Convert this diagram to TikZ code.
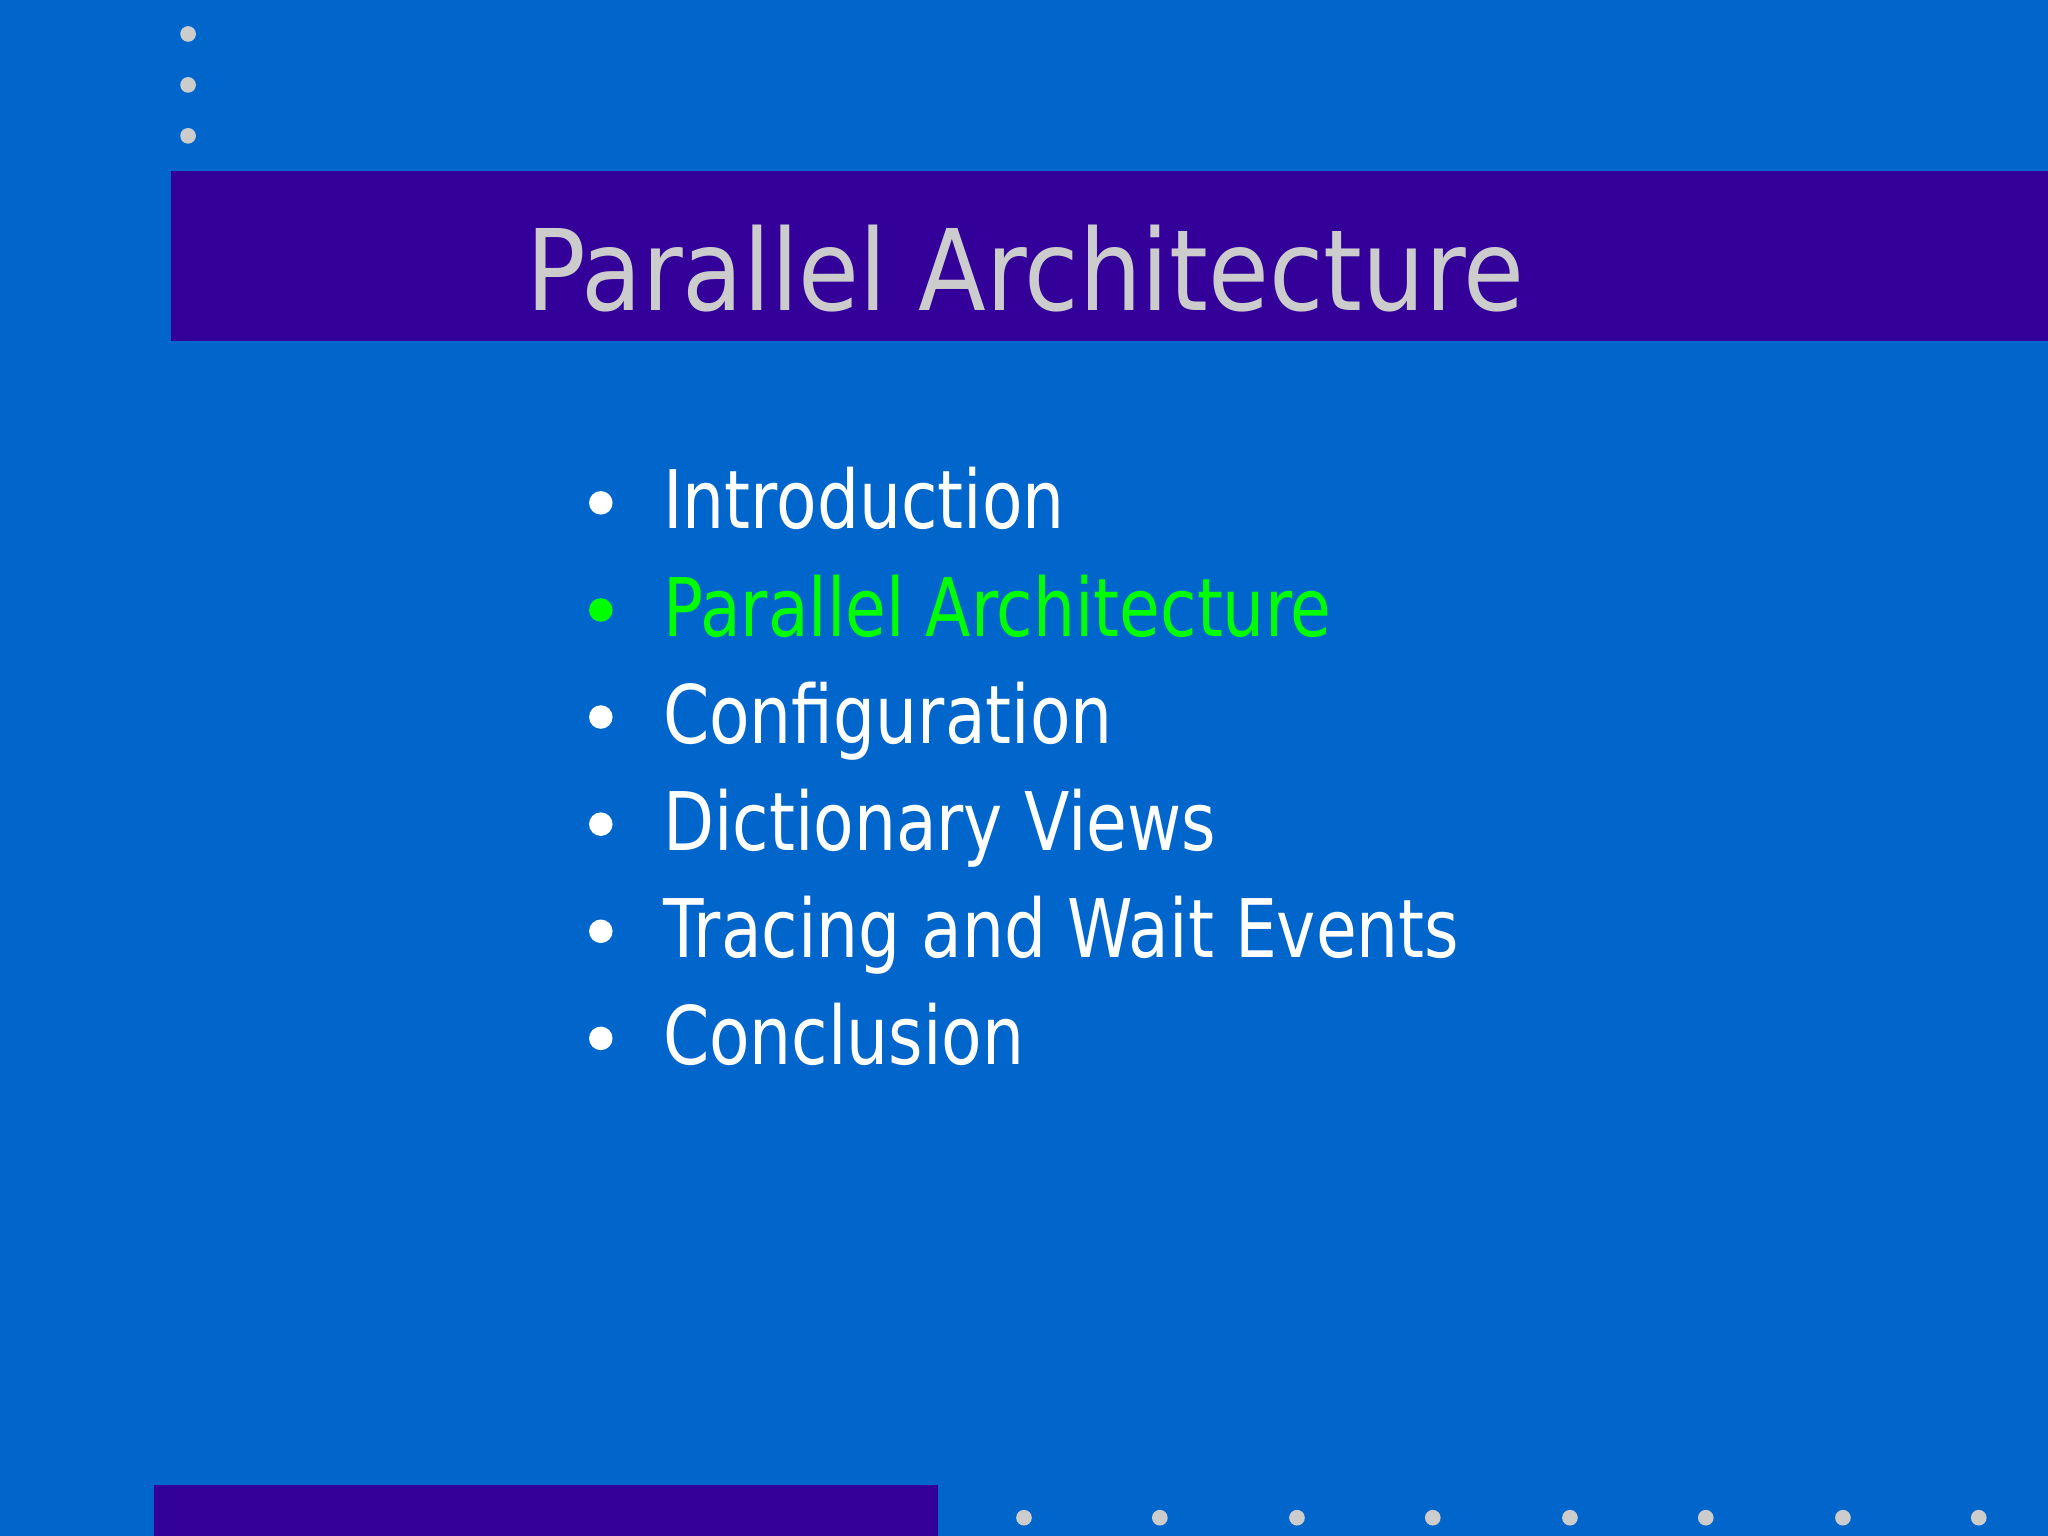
\documentclass[tikz,border=0pt]{standalone}
\usepackage{fontspec}
\setmainfont{DejaVu Sans}
\newfontfamily\titlefont{DejaVu Sans}[FakeStretch=0.88]
\newfontfamily\itemfont{DejaVu Sans}[FakeStretch=0.82]
\definecolor{bg}{RGB}{0,102,204}
\definecolor{band}{RGB}{51,0,153}
\definecolor{lgray}{RGB}{204,204,204}
\definecolor{hl}{RGB}{0,255,0}
\begin{document}
\begin{tikzpicture}[x=0.01cm,y=-0.01cm,
  item/.style={anchor=base west,inner sep=0,text=white,font=\itemfont\fontsize{17.6}{20}\selectfont},
  dotg/.style={fill=lgray},
  bul/.style={fill=white}]
\fill[bg] (0,0) rectangle (1568,1176);
\useasboundingbox (0,0) rectangle (1568,1176);
\fill[band] (131,131) rectangle (1568,261);
\fill[band] (118,1137) rectangle (718,1176);
\foreach \y in {26,65,104} \fill[dotg] (144,\y) circle (6);
\foreach \x in {784,888,993,1097,1202,1306,1411,1515} \fill[dotg] (\x,1162) circle (6);
\node[anchor=base,inner sep=0,text=lgray,font=\titlefont\fontsize{24.5}{28}\selectfont] (title) at (785,238) {Parallel Architecture};
\foreach \t/\c [count=\i from 0] in {Introduction/white,Parallel Architecture/hl,Configuration/white,Dictionary Views/white,Tracing and Wait Events/white,Conclusion/white}{
  \fill[\c] (460,385+82*\i) circle (9);
  \node[item,text=\c] (it\i) at (507,405+82*\i) {\t};
}
\end{tikzpicture}
\end{document}
